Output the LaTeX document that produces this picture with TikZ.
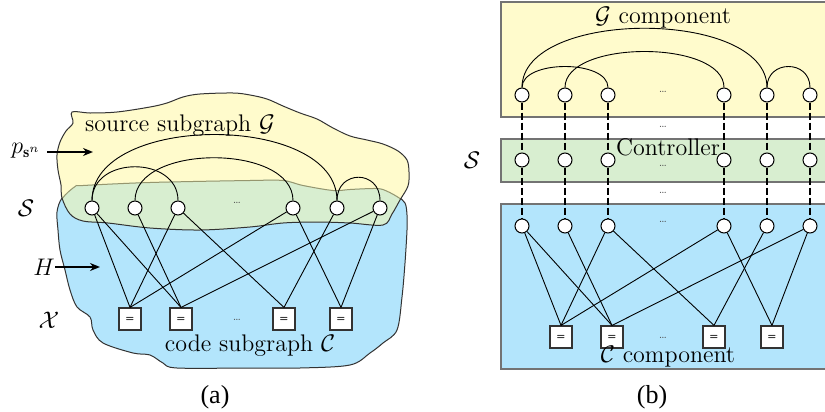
\documentclass[tikz,border=0pt]{standalone}
\usepackage{fontspec}
\newfontfamily\capfont{Liberation Serif}
\usetikzlibrary{arrows.meta}

\definecolor{srcyellow}{RGB}{255,251,204}
\definecolor{ctlgreen}{RGB}{216,238,208}
\definecolor{codeblue}{RGB}{179,229,252}
\definecolor{seam}{RGB}{150,150,110}

\tikzset{
  varnode/.style={circle, draw, fill=white, line width=0.5pt, minimum size=7pt, inner sep=0pt},
  chknode/.style={rectangle, draw=black!80, fill=white, line width=0.6pt, minimum size=11pt,
    inner sep=0pt, font=\sffamily\bfseries\fontsize{5}{5}\selectfont},
  wire/.style={line width=0.45pt},
  link/.style={line width=1.1pt, dash pattern=on 3.5pt off 1.5pt},
  dotsym/.style={font=\fontsize{5}{5}\selectfont, text=black!70, inner sep=0pt},
  lbl/.style={font=\fontsize{12}{14}\selectfont, inner sep=0pt},
  band/.style={draw=black!55, line width=0.7pt},
  ptr/.style={line width=0.9pt, -{Stealth[length=5pt,width=4pt]}},
  caplbl/.style={font=\capfont\fontsize{13}{15}\selectfont, inner sep=0pt},
}

% outlines of the two overlapping subgraph regions
\newcommand\srcblob{plot[smooth cycle, tension=0.55] coordinates {
  (72,112) (90,113) (117,112) (150,107) (167,103) (183,97) (200,94) (233,93)
  (250,95) (267,99) (283,106) (300,113) (317,119) (333,128) (350,136) (367,140)
  (383,144) (398,151) (407,160) (409,172) (408,186) (400,200) (392,214) (383,225)
  (350,223) (317,222) (283,223) (250,227) (200,230) (150,228) (108,223) (83,221)
  (70,214) (62,198) (61,185) (58,170) (57,155) (60,142) (66,131) (73,123)}}
\newcommand\codeblob{plot[smooth cycle, tension=0.55] coordinates {
  (75,186) (83,185) (150,182) (250,180) (283,180) (303,185) (333,190) (350,189)
  (373,188) (383,189) (397,196) (405,203) (407,215) (407,230) (405,263) (402,297)
  (397,330) (383,343) (370,353) (350,365) (300,368) (250,368) (177,368) (163,363)
  (150,355) (133,353) (103,343) (93,330) (90,317) (77,307) (70,290) (65,270)
  (60,250) (58,230) (57,212) (62,198)}}

\begin{document}
\begin{tikzpicture}[x=0.5pt,y=-0.5pt]
\clip (0,0) rectangle (825,412);

% ---------- left: overlapping regions ----------
\fill[codeblue] \codeblob;
\draw[black!80, line width=0.5pt] \codeblob;
\fill[srcyellow] \srcblob;
\begin{scope}
  \clip \codeblob;
  \fill[ctlgreen] \srcblob;
  \clip \srcblob;
  \draw[seam, line width=1pt] \codeblob;
\end{scope}
\draw[black!80, line width=0.5pt] \srcblob;

\foreach \i/\x in {1/92,2/135,3/178,4/293,5/337,6/380}
  \node[varnode] (a\i) at (\x,208) {};
\foreach \i/\x in {1/130,2/181,3/284,4/341}
  \node[chknode] (q\i) at (\x,319) {=};

\draw[wire] (a1.north) .. controls +(0,-88) and +(0,-88) .. (a5.north);
\draw[wire] (a2.north) .. controls +(0,-57) and +(0,-57) .. (a4.north);
\draw[wire] (a1.north) .. controls +(0,-45) and +(0,-45) .. (a3.north);
\draw[wire] (a5.north) .. controls +(0,-31) and +(0,-31) .. (a6.north);

\foreach \s/\t in {1/1,1/2,2/2,3/1,3/3,4/1,4/4,5/3,6/2,6/4}
  \draw[wire] (a\s) -- (q\t.north);

\node[dotsym] (ad1) at (237,203) {\dots};
\node[dotsym] (ad2) at (237,320) {\dots};

\node[lbl] (srclbl) at (180,126) {source subgraph $\mathcal{G}$};
\node[lbl] (codelbl) at (250,346) {code subgraph $\mathcal{C}$};
\node[lbl] (plbl) at (26,151) {$p_{\mathbf{s}^n}$};
\coordinate (ptip) at (93,152);
\draw[ptr, shorten <=3pt] (plbl.east |- ptip) -- (ptip);
\node[lbl] (hlbl) at (44,267) {$H$};
\coordinate (htip) at (100,267);
\draw[ptr] (hlbl.east |- htip) -- (htip);
\node[lbl] (sla) at (26,208) {$\mathcal{S}$};
\node[lbl] (xla) at (49,320) {$\mathcal{X}$};
\node[caplbl] (capa) at (215,397) {(a)};

% ---------- right: stacked components ----------
\draw[band, fill=srcyellow] (501,2) rectangle (840,117);
\draw[band, fill=ctlgreen] (501,139) rectangle (840,182);
\draw[band, fill=codeblue] (501,204) rectangle (840,369);

\foreach \i/\x in {1/522,2/565,3/608,4/724,5/767,6/810} {
  \node[varnode] (g\i) at (\x,95) {};
  \node[varnode] (s\i) at (\x,160) {};
  \node[varnode] (c\i) at (\x,226) {};
}
\foreach \i/\x in {1/561,2/612,3/714,4/772}
  \node[chknode] (r\i) at (\x,337) {=};

\foreach \i in {1,...,6} {
  \draw[link] (g\i) -- (s\i);
  \draw[link] (s\i) -- (c\i);
}

\draw[wire] (g1.north) .. controls +(0,-79) and +(0,-79) .. (g5.north);
\draw[wire] (g2.north) .. controls +(0,-48) and +(0,-48) .. (g4.north);
\draw[wire] (g1.north) .. controls +(0,-28) and +(0,-28) .. (g3.north);
\draw[wire] (g5.north) .. controls +(0,-28) and +(0,-28) .. (g6.north);

\foreach \s/\t in {1/1,1/2,2/2,3/1,3/3,4/1,4/4,5/3,6/2,6/4}
  \draw[wire] (c\s) -- (r\t.north);

\foreach \n/\y in {1/92,2/127,3/166,4/193,5/222,6/338}
  \node[dotsym] (bd\n) at (663,\y) {\dots};

\node[lbl] (glbl) at (663,18) {$\mathcal{G}$ component};
\node[lbl] (ctllbl) at (668,147) {Controller};
\node[lbl] (clbl) at (668,357) {$\mathcal{C}$ component};
\node[lbl] (slb) at (472,160) {$\mathcal{S}$};
\node[caplbl] (capb) at (652,397) {(b)};
\end{tikzpicture}
\end{document}
